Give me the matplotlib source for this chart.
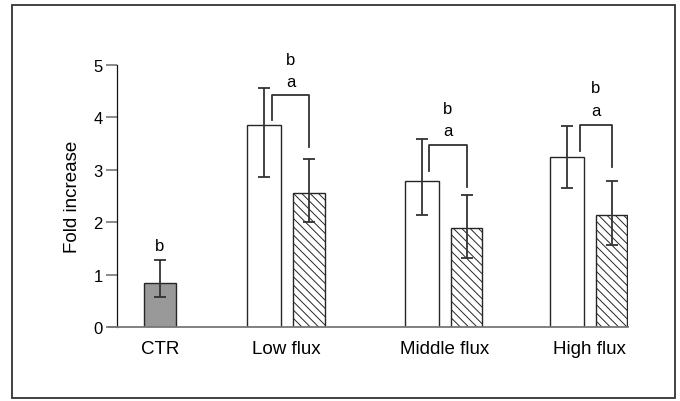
import numpy as np
import matplotlib
matplotlib.use("Agg")
import matplotlib.pyplot as plt
from matplotlib.patches import Rectangle

plt.rcParams['font.family'] = ['Liberation Sans', 'DejaVu Sans']
plt.rcParams['hatch.linewidth'] = 0.7

# Data
groups = ['CTR', 'Low flux', 'Middle flux', 'High flux']
group_x = [1.60, 2.865, 4.44, 5.89]

ctr_val = 0.84
ctr_err = (0.57, 1.28)

plain_vals = [3.86, 2.79, 3.24]
plain_lo = [2.86, 2.13, 2.65]
plain_hi = [4.56, 3.59, 3.84]

hatch_vals = [2.56, 1.89, 2.14]
hatch_lo = [2.00, 1.32, 1.56]
hatch_hi = [3.20, 2.52, 2.78]

bracket_top = [4.43, 3.48, 3.86]
bracket_left_end = [3.94, 2.98, 3.36]
bracket_right_end = [3.43, 2.67, 3.05]
bracket_left_x = [2.72, 4.29, 5.80]
letter_a_y = [4.68, 3.75, 4.14]
letter_b_y = [5.10, 4.17, 4.57]
ctr_letter_y = 1.55

DARK = '#262626'
ERR = '#333333'

fig = plt.figure(figsize=(6.8, 4.02), dpi=100)
ax = fig.add_axes([0.160, 0.184, 0.764, 0.652])

half = 0.225
err_kw = dict(ecolor=ERR, elinewidth=1.3, capsize=4.5, capthick=1.3)

# control bar
ax.bar(group_x[0], ctr_val, width=0.32, color='#999999', edgecolor=DARK, linewidth=1.0,
       yerr=[[ctr_val - ctr_err[0]], [ctr_err[1] - ctr_val]], error_kw=err_kw, zorder=2)

gx = np.array(group_x[1:])
pv = np.array(plain_vals)
hv = np.array(hatch_vals)
ax.bar(gx - half, pv, width=0.34, color='white', edgecolor=DARK, linewidth=1.0,
       yerr=[pv - np.array(plain_lo), np.array(plain_hi) - pv], error_kw=err_kw, zorder=2)
ax.bar(gx + half, hv, width=0.31, color='white', edgecolor=DARK, linewidth=1.0,
       hatch='\\\\\\\\', yerr=[hv - np.array(hatch_lo), np.array(hatch_hi) - hv],
       error_kw=err_kw, zorder=2)

# significance brackets
for i in range(3):
    xl = bracket_left_x[i]
    xr = gx[i] + half
    ax.plot([xl, xl, xr, xr], [bracket_left_end[i], bracket_top[i], bracket_top[i], bracket_right_end[i]],
            color=ERR, lw=1.3, clip_on=False, zorder=3)
    xm = (xl + xr) / 2
    ax.text(xm, letter_a_y[i], 'a', ha='center', va='center', fontsize=12, clip_on=False)
    ax.text(xm, letter_b_y[i], 'b', ha='center', va='center', fontsize=12, clip_on=False)

ax.text(group_x[0], ctr_letter_y, 'b', ha='center', va='center', fontsize=12)

ax.set_xlim(1.09, 6.28)
ax.set_ylim(0, 5)
ax.spines['left'].set_position(('data', 1.17))
ax.spines['left'].set_color('#111111')
ax.spines['left'].set_linewidth(0.9)
ax.spines['bottom'].set_color('#777777')
ax.spines['bottom'].set_linewidth(1.3)
ax.spines['top'].set_visible(False)
ax.spines['right'].set_visible(False)

ax.set_yticks(range(6))
ax.tick_params(axis='y', length=8, width=1.2, color='#777777', labelsize=12, pad=2)
ax.set_xticks(group_x)
ax.set_xticklabels(groups, fontsize=13.5)
ax.tick_params(axis='x', length=0, pad=9)
ax.set_ylabel('Fold increase', fontsize=13.5, labelpad=9)

# outer frame
fig.patches.append(Rectangle((12 / 680, 3 / 402), 663 / 680, 393 / 402, transform=fig.transFigure,
                             fill=False, edgecolor='#333333', linewidth=1.3))

plt.savefig('out.png', dpi=100)
